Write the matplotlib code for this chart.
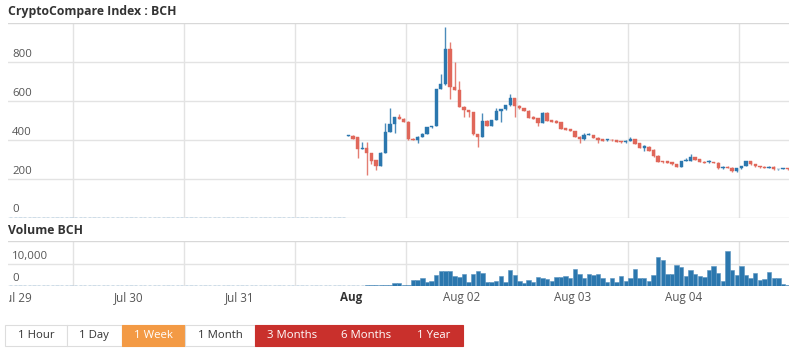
#!/usr/bin/env python3
import numpy as np
import matplotlib
matplotlib.use("Agg")
import matplotlib.pyplot as plt
from matplotlib.patches import Rectangle
from matplotlib import transforms

plt.rcParams["font.family"] = ["Open Sans", "DejaVu Sans"]

# hourly candles, Aug 1 00:00 onwards (hour index 0..95)
opens = [420, 420, 412, 352, 355, 330, 295, 265, 333, 440, 480, 515, 508, 493,
         405, 398, 415, 430, 463, 470, 661, 685, 867, 673, 656, 570, 553, 540,
         428, 416, 498, 470, 501, 550, 556, 577, 613, 575, 561, 550, 518, 510,
         487, 539, 501, 498, 491, 458, 453, 445, 416, 402, 424, 424, 410, 403,
         397, 400, 397, 391, 386, 395, 403, 383, 357, 365, 348, 317, 290, 289,
         285, 273, 261, 290, 290, 310, 299, 287, 283, 285, 282, 252, 261, 256,
         238, 252, 265, 290, 273, 265, 261, 255, 261, 247, 249, 250]
closes = [422, 405, 352, 355, 330, 292, 265, 333, 440, 480, 515, 507, 493, 403,
          398, 415, 430, 463, 470, 661, 685, 867, 673, 656, 570, 553, 540, 428,
          416, 498, 470, 501, 550, 556, 577, 613, 575, 561, 550, 513, 506, 487,
          539, 498, 493, 487, 457, 450, 445, 416, 402, 424, 426, 410, 398, 395,
          403, 397, 390, 386, 395, 405, 379, 357, 369, 344, 317, 287, 283, 282,
          273, 261, 290, 294, 310, 296, 285, 282, 289, 280, 252, 261, 254, 238,
          252, 265, 290, 273, 264, 258, 256, 262, 247, 249, 250, 248]
highs = [425, 422, 414, 386, 390, 332, 297, 335, 488, 561, 517, 530, 510, 495,
         407, 417, 432, 465, 472, 663, 738, 979, 900, 802, 702, 572, 555, 542,
         430, 539, 500, 503, 561, 558, 579, 635, 615, 577, 563, 552, 520, 512,
         541, 541, 503, 500, 493, 460, 455, 447, 418, 433, 433, 426, 412, 405,
         405, 402, 399, 393, 397, 414, 405, 385, 374, 367, 350, 319, 292, 291,
         287, 275, 292, 304, 327, 312, 301, 289, 296, 287, 284, 263, 263, 258,
         254, 267, 292, 292, 275, 267, 263, 264, 263, 251, 252, 252]
lows = [418, 403, 304, 350, 218, 273, 245, 263, 330, 438, 434, 505, 490, 400,
        396, 381, 413, 428, 461, 468, 659, 683, 610, 654, 568, 519, 519, 426,
        361, 414, 468, 468, 499, 493, 554, 575, 515, 559, 548, 511, 504, 470,
        485, 496, 491, 485, 455, 448, 443, 414, 381, 400, 422, 408, 385, 393,
        395, 395, 388, 384, 384, 393, 377, 355, 344, 342, 310, 285, 281, 280,
        271, 259, 259, 288, 288, 294, 283, 280, 281, 278, 250, 250, 252, 236,
        236, 250, 263, 271, 262, 256, 254, 253, 245, 245, 247, 246]
volumes = [0, 0, 0, 0, 500, 500, 500, 500, 500, 500, 1300, 1200, 600, 400,
           2650, 2650, 3750, 1900, 2300, 5000, 6550, 6550, 6550, 4500, 4200,
           5300, 1560, 5300, 6550, 5770, 1900, 1900, 2340, 4500, 1900, 7000,
           5000, 2340, 1400, 2650, 1900, 4200, 3430, 2960, 2180, 4200, 4050,
           4500, 3430, 7640, 5300, 3430, 5300, 5000, 5300, 3750, 1560, 3430,
           1900, 4500, 2180, 3430, 7640, 3430, 3430, 2180, 5000, 13100, 11700,
           5300, 5300, 9200, 8400, 4500, 7000, 5460, 4500, 4050, 7330, 8740,
           5770, 2180, 15600, 7000, 5000, 8740, 5000, 3430, 5770, 2650, 2960,
           6240, 3430, 3750, 780, 600]
pre_launch_hours = 73  # flat zero candles before the listing

price_ticks = [0, 200, 400, 600, 800]
volume_ticks = [0, 10000]
volume_tick_labels = ["0", "10,000"]
day_labels = ["Jul 29", "Jul 30", "Jul 31", "Aug", "Aug 02", "Aug 03", "Aug 04"]
buttons = ["1 Hour", "1 Day", "1 Week", "1 Month", "3 Months", "6 Months", "1 Year"]
button_colors = ["white", "white", "#f39a45", "white", "#c9302c", "#c9302c", "#c9302c"]

BLUE = "#2b77ae"
RED = "#e0675a"
GRID = "#e3e3e3"
TXT = "#555555"

W, H = 800, 352
fig = plt.figure(figsize=(8, 3.52), dpi=100)


def px_axes(x0, y0, x1, y1):
    return fig.add_axes([x0 / W, 1 - y1 / H, (x1 - x0) / W, (y1 - y0) / H])


xlim = (-74.1, 94.8)
hours = np.arange(len(opens)) - 0.5
pre_hours = np.arange(-pre_launch_hours, 0) - 0.5
day_pos = np.arange(-3, 4) * 24
grid_pos = day_pos + 12

ax = px_axes(8, 23, 789, 217.5)
axv = px_axes(8, 241, 789, 286)

for a in (ax, axv):
    a.set_xlim(*xlim)
    for s in a.spines.values():
        s.set_visible(False)
    a.set_xticks([])
    a.set_yticks([])
    for g in grid_pos:
        a.axvline(g, color=GRID, lw=1, zorder=0)

# price panel
ax.set_ylim(0, 1000)
for v in price_ticks + [1000]:
    ax.axhline(v, color="#d8d8d8" if v in (0, 1000) else GRID, lw=1, zorder=0)
lab_tr = transforms.offset_copy(transforms.blended_transform_factory(ax.transAxes, ax.transData),
                                fig=fig, y=2, units="dots")
for v in price_ticks:
    ax.text(4 / 781, v, str(v), transform=lab_tr, fontsize=8.2, color=TXT,
            va="bottom", ha="left")

ax.hlines(np.zeros(len(pre_hours)), pre_hours - 0.35, pre_hours + 0.35,
          color=BLUE, lw=1, zorder=3)
for x, o, c, h, l in zip(hours, opens, closes, highs, lows):
    col = BLUE if c >= o else RED
    ax.vlines(x, l, h, color=col, lw=1, alpha=0.85, zorder=2)
    ax.bar(x, max(abs(c - o), 4), bottom=min(o, c), width=0.72, color=col,
           edgecolor=col, lw=0.3, zorder=3)

# volume panel
axv.set_ylim(0, 20000)
for v in [0, 10000, 20000]:
    axv.axhline(v, color="#d8d8d8" if v in (0, 20000) else GRID, lw=1, zorder=0)
vlab_tr = transforms.offset_copy(transforms.blended_transform_factory(axv.transAxes, axv.transData),
                                 fig=fig, y=2, units="dots")
for v, t in zip(volume_ticks, volume_tick_labels):
    axv.text(4 / 781, v, t, transform=vlab_tr, fontsize=8.2, color=TXT,
             va="bottom", ha="left")
vol = np.array(volumes)
axv.hlines(np.zeros(len(pre_hours)), pre_hours - 0.35, pre_hours + 0.35,
           color=BLUE, lw=1, zorder=3)
zero = vol == 0
axv.hlines(np.zeros(zero.sum()), hours[zero] - 0.35, hours[zero] + 0.35,
           color=BLUE, lw=1, zorder=3)
axv.bar(hours[~zero], vol[~zero], width=0.95, color=BLUE, edgecolor="#5a93bf",
        lw=0.4, zorder=3)

# x labels below the volume panel (the first one runs off the left edge)
clip_box = transforms.Bbox.from_extents(9, 0, W, H)
for d, t in zip(day_pos, day_labels):
    lbl = fig.text(0, 0, t, ha="center", va="center", fontsize=8.4,
                   color="#333333" if t == "Aug" else TXT,
                   fontweight="bold" if t == "Aug" else "normal",
                   transform=transforms.blended_transform_factory(axv.transData, fig.transFigure))
    lbl.set_position((d, 1 - 298 / H))
    lbl.set_clip_box(clip_box)
    lbl.set_clip_on(True)

fig.text(8 / W, 1 - 11 / H, "CryptoCompare Index : BCH", fontsize=8.8,
         fontweight="bold", color="#333333", va="center", ha="left")
fig.text(8 / W, 1 - 230 / H, "Volume BCH", fontsize=8.8,
         fontweight="bold", color="#333333", va="center", ha="left")

# range selector buttons
edges = [5, 66.7, 122, 185, 255, 329, 404, 463]
for i, (b, c) in enumerate(zip(buttons, button_colors)):
    x0, x1 = edges[i], edges[i + 1]
    fig.add_artist(Rectangle((x0 / W, 1 - 345.5 / H), (x1 - x0) / W, 20.5 / H,
                             transform=fig.transFigure, facecolor=c,
                             edgecolor="#dddddd" if c == "white" else c, lw=0.8))
    fig.text((x0 + x1) / 2 / W, 1 - 335.5 / H, b, fontsize=8.2,
             color="#333333" if c == "white" else "white", ha="center", va="center")

fig.savefig("out.png", dpi=100)
